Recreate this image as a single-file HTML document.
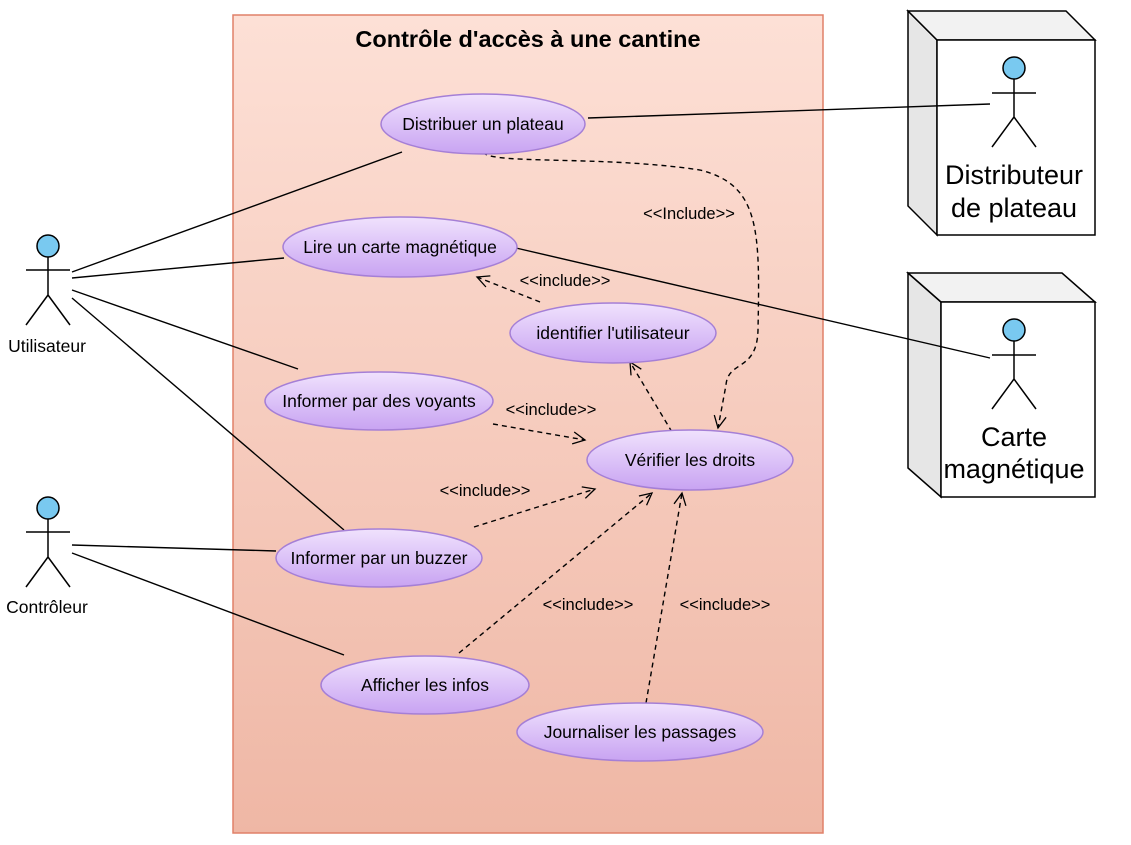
<!DOCTYPE html>
<html><head><meta charset="utf-8"><style>
html,body{margin:0;padding:0;background:#fff;}
svg{display:block;font-family:"Liberation Sans",Arial,sans-serif;}
</style></head><body>
<svg width="1131" height="845" viewBox="0 0 1131 845" xmlns="http://www.w3.org/2000/svg">
<defs>
<linearGradient id="bg" x1="0" y1="0" x2="0" y2="1"><stop offset="0" stop-color="#fde0d6"/><stop offset="1" stop-color="#efb7a5"/></linearGradient>
<linearGradient id="uc" x1="0" y1="0" x2="0" y2="1"><stop offset="0" stop-color="#f0e2fd"/><stop offset="1" stop-color="#c8a3f2"/></linearGradient>
<marker id="ar" markerWidth="16" markerHeight="16" refX="13" refY="7" orient="auto" markerUnits="userSpaceOnUse"><polyline points="1,1 13,7 1,13" fill="none" stroke="#000" stroke-width="1.3"/></marker>
</defs>
<rect x="233" y="15" width="590" height="818" fill="url(#bg)" stroke="#e08068" stroke-width="1.5"/>
<text x="528" y="47" font-size="23.5" font-weight="bold" text-anchor="middle">Contrôle d'accès à une cantine</text>

<g stroke="#000" stroke-width="1.5">
<polygon points="908,11 937,40 937,235 908,206" fill="#e6e6e6"/>
<polygon points="908,11 1066,11 1095,40 937,40" fill="#f2f2f2"/>
<rect x="937" y="40" width="158" height="195" fill="#fff"/>
<polygon points="908,273 941,302 941,497 908,468" fill="#e6e6e6"/>
<polygon points="908,273 1062,273 1095,302 941,302" fill="#f2f2f2"/>
<rect x="941" y="302" width="154" height="195" fill="#fff"/>
</g>
<g font-size="27" text-anchor="middle">
<text x="1014" y="184">Distributeur</text><text x="1014" y="217">de plateau</text>
<text x="1014" y="446">Carte</text><text x="1014" y="478">magnétique</text>
</g>

<g stroke="#000" stroke-width="1.5" fill="none">
<path d="M48,257 V295 M26,270 H70 M48,295 L26,325 M48,295 L70,325"/>
<path d="M48,519 V557 M26,532 H70 M48,557 L26,587 M48,557 L70,587"/>
<path d="M1014,79 V117 M992,93 H1036 M1014,117 L992,147 M1014,117 L1036,147"/>
<path d="M1014,341 V379 M992,355 H1036 M1014,379 L992,409 M1014,379 L1036,409"/>
</g>
<g fill="#79c9f0" stroke="#000" stroke-width="1.5">
<circle cx="48" cy="246" r="11"/><circle cx="48" cy="508" r="11"/>
<circle cx="1014" cy="68" r="11"/><circle cx="1014" cy="330" r="11"/>
</g>
<g font-size="17.5" text-anchor="middle">
<text x="47" y="352">Utilisateur</text><text x="47" y="613">Contrôleur</text>
</g>

<g stroke="#000" stroke-width="1.4" fill="none">
<line x1="72" y1="272" x2="402" y2="152"/>
<line x1="72" y1="278" x2="284" y2="258"/>
<line x1="72" y1="290" x2="298" y2="369"/>
<line x1="72" y1="298" x2="344" y2="530"/>
<line x1="72" y1="545" x2="276" y2="551"/>
<line x1="72" y1="553" x2="344" y2="655"/>
<line x1="588" y1="118" x2="990" y2="104"/>
<line x1="516" y1="248" x2="990" y2="358"/>
</g>

<g stroke="#000" stroke-width="1.4" fill="none" stroke-dasharray="5,4" marker-end="url(#ar)">
<path d="M483,152 C490,165 600,155 700,170 C760,185 760,230 758,330 C757,372 728,360 726,385 L718,428"/>
<line x1="540" y1="302" x2="477" y2="277"/>
<line x1="672" y1="432" x2="630" y2="362"/>
<line x1="493" y1="424" x2="585" y2="440"/>
<line x1="474" y1="527" x2="595" y2="489"/>
<line x1="459" y1="653" x2="652" y2="493"/>
<line x1="646" y1="703" x2="682" y2="493"/>
</g>
<g font-size="16.5" text-anchor="middle">
<text x="689" y="219">&lt;&lt;Include&gt;&gt;</text>
<text x="565" y="286">&lt;&lt;include&gt;&gt;</text>
<text x="551" y="415">&lt;&lt;include&gt;&gt;</text>
<text x="485" y="496">&lt;&lt;include&gt;&gt;</text>
<text x="588" y="610">&lt;&lt;include&gt;&gt;</text>
<text x="725" y="610">&lt;&lt;include&gt;&gt;</text>
</g>

<g fill="url(#uc)" stroke="#a57fd6" stroke-width="1.5">
<ellipse cx="483" cy="124" rx="102" ry="30"/>
<ellipse cx="400" cy="247" rx="117" ry="30"/>
<ellipse cx="613" cy="333" rx="103" ry="30"/>
<ellipse cx="379" cy="401" rx="114" ry="29"/>
<ellipse cx="690" cy="460" rx="103" ry="30"/>
<ellipse cx="379" cy="558" rx="103" ry="29"/>
<ellipse cx="425" cy="685" rx="104" ry="29"/>
<ellipse cx="640" cy="732" rx="123" ry="29"/>
</g>
<g font-size="17.5" text-anchor="middle">
<text x="483" y="130">Distribuer un plateau</text>
<text x="400" y="253">Lire un carte magnétique</text>
<text x="613" y="339">identifier l'utilisateur</text>
<text x="379" y="407">Informer par des voyants</text>
<text x="690" y="466">Vérifier les droits</text>
<text x="379" y="564">Informer par un buzzer</text>
<text x="425" y="691">Afficher les infos</text>
<text x="640" y="738">Journaliser les passages</text>
</g>
</svg>
</body></html>
